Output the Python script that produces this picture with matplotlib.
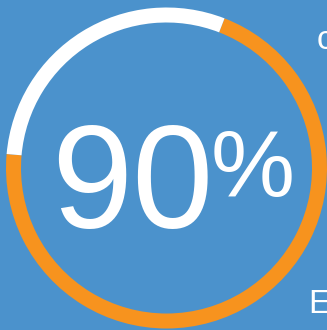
import matplotlib.pyplot as plt

# ring shares (orange = progress, white = rest)
ring_values = [70.5, 29.5]
ring_colors = ["#f7931e", "#ffffff"]
big_label = "90"
unit_label = "%"
side_labels = ["c", "E"]

W, H = 327, 330
bg = "#4b92cc"

fig = plt.figure(figsize=(W / 100, H / 100), dpi=100)
fig.patch.set_facecolor(bg)
ax = fig.add_axes([0, 0, 1, 1])
ax.set_facecolor(bg)
ax.set_xlim(0, W)
ax.set_ylim(0, H)
ax.set_aspect("equal")
ax.axis("off")

# ring, orange starts at ~10 o'clock and runs counterclockwise
ax.pie(ring_values, colors=ring_colors, startangle=175, counterclock=True,
       center=(166.5, H - 168), radius=160.5,
       wedgeprops=dict(width=15, linewidth=0))
ax.set_xlim(0, W)
ax.set_ylim(0, H)

ax.text(51, H - 228, big_label, fontsize=105, color="white",
        family="Liberation Sans", ha="left", va="baseline")
ax.text(211, H - 196, unit_label, fontsize=68, color="white",
        family="Liberation Sans", ha="left", va="baseline")

ax.text(317, H - 49, side_labels[0], fontsize=24, color="white",
        family="Liberation Sans", ha="left", va="baseline")
ax.text(308, H - 313, side_labels[1], fontsize=24, color="white",
        family="Liberation Sans", ha="left", va="baseline")

fig.savefig("out.png", dpi=100, facecolor=bg)
